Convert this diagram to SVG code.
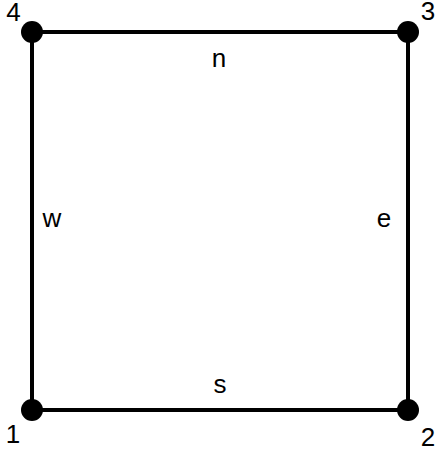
<svg xmlns="http://www.w3.org/2000/svg" width="436" height="451" viewBox="0 0 436 451">
<style>
.edge{stroke:#000;stroke-width:4;fill:none}
.node{fill:#000}
text{font-family:"Liberation Sans",Arial,sans-serif;font-size:26px;fill:#000}
</style>
<rect width="436" height="451" fill="#fff"/>
<g id="connectors">
<line class="edge" x1="32" y1="32" x2="408" y2="32"/>
<line class="edge" x1="408" y1="32" x2="408" y2="410"/>
<line class="edge" x1="408" y1="410" x2="32" y2="410"/>
<line class="edge" x1="32" y1="410" x2="32" y2="32"/>
</g>
<g id="edge-labels">
<text x="219" y="67" text-anchor="middle">n</text>
<text x="220" y="393" text-anchor="middle">s</text>
<text x="52" y="227" text-anchor="middle">w</text>
<text x="384" y="227" text-anchor="middle">e</text>
</g>
<g id="node1"><circle class="node" cx="32" cy="410" r="11"/><text x="13" y="443" text-anchor="middle">1</text></g>
<g id="node2"><circle class="node" cx="408" cy="410" r="11"/><text x="428" y="446" text-anchor="middle">2</text></g>
<g id="node3"><circle class="node" cx="408" cy="32" r="11"/><text x="428" y="20" text-anchor="middle">3</text></g>
<g id="node4"><circle class="node" cx="32" cy="32" r="11"/><text x="13.5" y="21" text-anchor="middle">4</text></g>
</svg>
